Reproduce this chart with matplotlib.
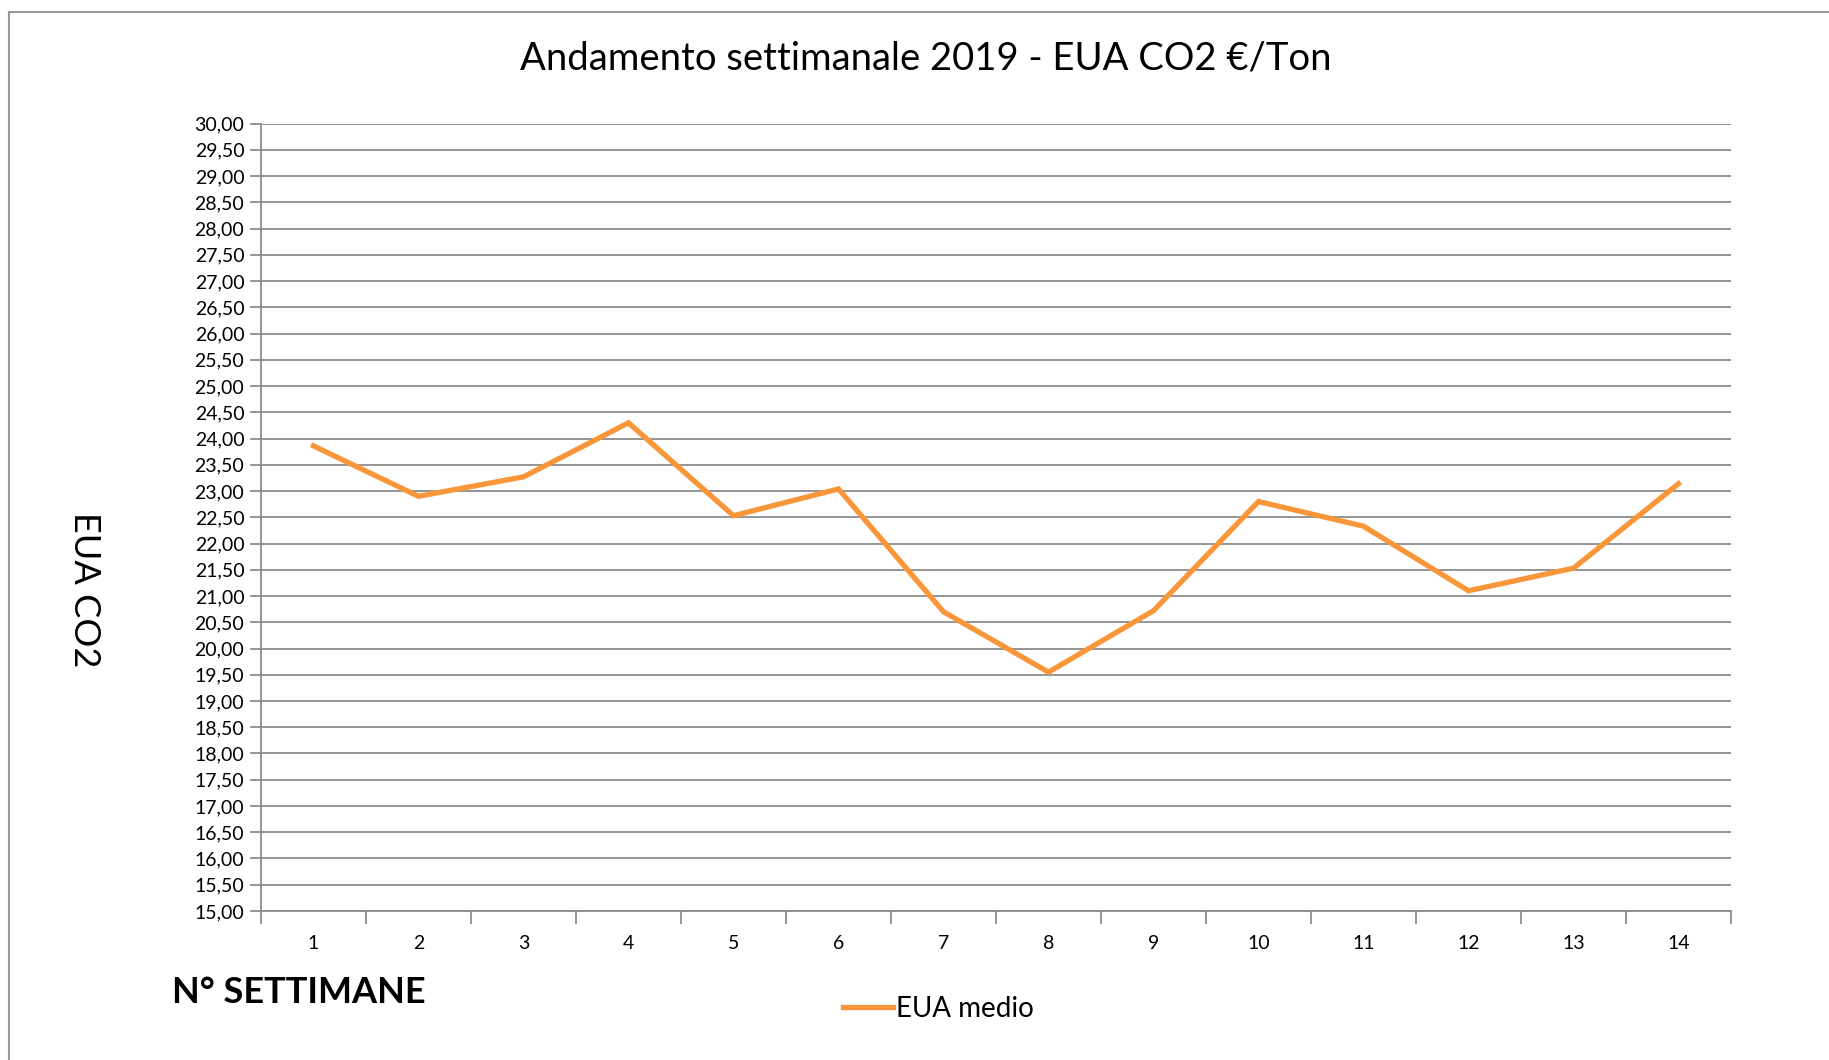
import matplotlib.pyplot as plt
import numpy as np
from matplotlib.lines import Line2D
from matplotlib.ticker import FuncFormatter

plt.rcParams['font.family'] = ['Lato', 'DejaVu Sans']

# weekly average EUA CO2 price (€/t), weeks 1-14 of 2019
settimane = list(range(1, 15))
eua_medio = [23.86, 22.90, 23.27, 24.30, 22.53, 23.04, 20.70,
             19.55, 20.72, 22.80, 22.33, 21.10, 21.53, 23.14]

fig = plt.figure(figsize=(18.29, 10.60), dpi=100)
ax = fig.add_axes([0.1427, 0.1406, 0.8037, 0.7428])

grid_col = '#8c8c8c'
ax.plot(settimane, eua_medio, color='#F9963A', linewidth=3.8,
        solid_joinstyle='miter', label='EUA medio', zorder=3)

ax.set_ylim(15, 30)
ax.set_yticks(np.arange(15, 30.01, 0.5))
ax.yaxis.set_major_formatter(FuncFormatter(lambda v, p: f'{v:.2f}'.replace('.', ',')))
ax.grid(axis='y', color=grid_col, linewidth=1.3)
ax.set_axisbelow(True)

ax.set_xlim(0.5, 14.5)
ax.set_xticks(np.arange(0.5, 14.6, 1))
ax.set_xticklabels([])
ax.set_xticks(settimane, minor=True)
ax.set_xticklabels([str(s) for s in settimane], minor=True)
ax.tick_params(axis='x', which='minor', length=0, pad=17, labelsize=14)
ax.tick_params(axis='x', which='major', length=9, width=1.3, color=grid_col)
ax.tick_params(axis='y', length=8, width=1.3, color=grid_col, labelsize=14, pad=4)

for s in ['top', 'right']:
    ax.spines[s].set_visible(False)
for s in ['left', 'bottom']:
    ax.spines[s].set_color(grid_col)
    ax.spines[s].set_linewidth(1.3)

fig.text(0.506, 0.945, 'Andamento settimanale 2019 - EUA CO2 €/Ton',
         ha='center', va='center', fontsize=27.5)
fig.text(0.046, 0.444, 'EUA CO2', rotation=-90, ha='center', va='center', fontsize=26)
fig.text(0.094, 0.064, 'N° SETTIMANE', ha='left', va='center', fontsize=26,
         fontweight='bold')

leg = fig.legend(loc='center', bbox_to_anchor=(0.513, 0.048), frameon=False,
                 fontsize=20, handlelength=1.8, handletextpad=0.1)

# chart frame edges visible in the original
fig.add_artist(Line2D([0.005, 1.0], [0.989, 0.989], color='#9a9a9a', linewidth=1.5))
fig.add_artist(Line2D([0.005, 0.005], [0.0, 0.989], color='#9a9a9a', linewidth=1.5))

fig.savefig('out.png', dpi=100, facecolor='white')
